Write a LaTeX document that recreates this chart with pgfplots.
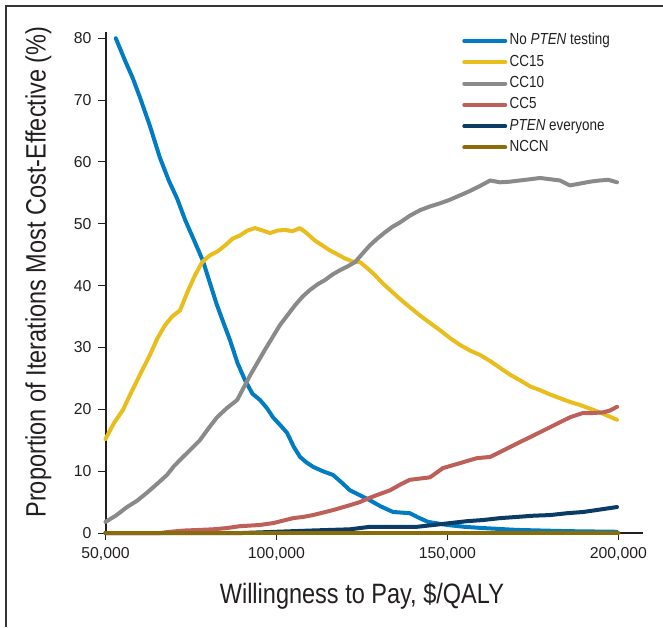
\documentclass[border=0pt]{standalone}
\usepackage{fontspec}
\setmainfont{Liberation Sans}[FakeStretch=0.84]
\newfontfamily\tickfont{Liberation Sans}
\usepackage{pgfplots}
\pgfplotsset{compat=1.18}

\definecolor{cBlue}{RGB}{0,124,194}
\definecolor{cYellow}{RGB}{232,190,30}
\definecolor{cGray}{RGB}{138,138,138}
\definecolor{cRed}{RGB}{190,96,90}
\definecolor{cNavy}{RGB}{10,60,102}
\definecolor{cOlive}{RGB}{138,108,10}
\definecolor{cInk}{RGB}{35,31,32}

% Share of iterations in which each strategy is most cost-effective
\pgfplotstableread{
wtp pct
53000 80.0
55700 76.4
58000 73.5
60100 70.4
63000 65.8
65900 60.7
68500 57.0
71000 54.0
73300 50.6
76000 47.2
78500 44.0
80500 40.5
82500 37.0
84500 34.0
86400 31.2
88600 27.5
90800 24.7
93000 22.5
95200 21.5
97200 20.2
99000 18.7
101000 17.5
103100 16.2
105000 14.0
106900 12.3
108800 11.4
110700 10.7
113500 10.0
116500 9.4
119000 8.2
121500 6.9
124400 6.1
127300 5.3
130500 4.3
134100 3.4
139000 3.2
141500 2.5
144300 1.8
149900 1.3
155000 1.0
160400 0.8
170300 0.5
185000 0.3
199500 0.2
}\tblBlue

\pgfplotstableread{
wtp pct
50000 15.2
52500 17.8
55100 19.9
57150 22.3
60000 25.5
63000 28.8
65200 31.5
67400 33.6
69500 35.0
71800 36.0
74000 39.0
76200 41.7
78300 43.8
80500 44.9
82700 45.5
85000 46.5
87200 47.6
89300 48.1
91500 48.9
93700 49.3
96000 48.9
98100 48.5
100300 48.9
102500 49.0
104700 48.8
106900 49.3
109000 48.4
111200 47.3
113400 46.5
115600 45.7
118000 45.0
120000 44.4
122200 43.9
124400 43.8
126600 42.8
128800 41.7
131000 40.4
133200 39.3
135400 38.2
137500 37.2
139700 36.2
141900 35.2
144800 34.0
147800 32.8
150800 31.5
153700 30.4
156600 29.5
159500 28.8
162500 27.8
165400 26.7
168300 25.6
171200 24.7
174200 23.7
177100 23.1
180000 22.4
182900 21.8
185800 21.2
188800 20.7
191700 20.1
194600 19.5
197100 18.9
199600 18.3
}\tblYellow

\pgfplotstableread{
wtp pct
50000 1.8
53000 2.8
56300 4.2
59200 5.2
62100 6.5
65000 7.9
68000 9.4
70000 10.8
71800 11.8
74700 13.4
77600 15.0
80100 16.9
82600 18.7
85500 20.2
88500 21.5
90400 23.5
92300 25.5
94400 27.5
96600 29.6
98800 31.6
101000 33.6
103200 35.2
105400 36.8
107600 38.2
109800 39.3
112000 40.2
114200 40.9
116400 41.8
118600 42.5
120800 43.1
123000 43.8
125200 45.2
127300 46.5
129500 47.6
131700 48.6
133900 49.5
136100 50.2
139000 51.3
142000 52.2
144900 52.8
147800 53.3
150800 53.9
153700 54.6
156600 55.3
159500 56.1
162500 57.0
165400 56.7
168300 56.8
171200 57.0
174200 57.2
177100 57.4
180000 57.2
182900 57.0
185800 56.2
188800 56.5
191700 56.8
194600 57.0
197100 57.1
199600 56.7
}\tblGray

\pgfplotstableread{
wtp pct
50000 0.0
66000 0.0
68900 0.2
73000 0.4
77600 0.5
81500 0.6
85500 0.8
89300 1.1
95200 1.3
99000 1.6
101900 2.0
104800 2.4
107800 2.6
110700 2.9
113600 3.3
116500 3.7
119000 4.1
121500 4.5
124400 5.0
127300 5.7
130200 6.3
133200 6.9
136100 7.8
139000 8.6
141900 8.8
144900 9.0
148700 10.5
151200 10.9
153700 11.3
156100 11.7
158600 12.1
162500 12.3
165400 13.1
168300 13.9
171200 14.7
174200 15.5
177100 16.3
180000 17.1
182900 17.9
185800 18.7
189600 19.4
192500 19.4
195500 19.5
197500 19.8
199600 20.4
}\tblRed

\pgfplotstableread{
wtp pct
50000 0.0
90000 0.0
95000 0.1
100000 0.2
110000 0.4
121500 0.6
127300 1.0
134000 1.0
141000 1.0
146000 1.3
150700 1.6
155500 1.9
160400 2.1
165300 2.4
170300 2.6
175200 2.8
180000 2.9
185000 3.2
189700 3.4
194700 3.8
199600 4.2
}\tblNavy

\pgfplotstableread{
wtp pct
50000 0.0
200000 0.0
}\tblOlive

\begin{document}
\begin{tikzpicture}
\useasboundingbox (0,0) rectangle (331.5pt,-313.5pt);
\draw[cInk!90, line width=0.75pt] (3pt,-313.5pt) -- (3pt,-3pt) -- (331.5pt,-3pt);
\begin{axis}[
  at={(52.75pt,-266.5pt)}, anchor=south west,
  scale only axis, width=268.75pt, height=250.5pt,
  xmin=50000, xmax=207200, ymin=0, ymax=81,
  axis x line*=bottom, axis y line*=left,
  axis line style={cInk, line width=1pt, -},
  tick align=outside, major tick length=3.5pt,
  tick style={cInk, line width=0.5pt},
  scaled x ticks=false,
  xtick={50000,100000,150000,200000},
  xticklabels={{50,000},{100,000},{150,000},{200,000}},
  ytick={0,10,20,30,40,50,60,70,80},
  yticklabels={0,10,20,30,40,50,60,70,80},
  tick label style={font=\tickfont\fontsize{7.9}{9}\selectfont, text=cInk},
  xlabel={Willingness to Pay, \$/QALY},
  ylabel={Proportion of Iterations Most Cost-Effective (\%)},
  label style={font=\fontsize{14}{16}\selectfont, text=cInk, inner sep=0pt},
  xlabel style={at={(rel axis cs:0.477,-0.0978)}, anchor=north},
  ylabel style={at={(rel axis cs:-0.1498,0.521)}, anchor=north},
  legend style={at={(rel axis cs:0.663,0.999)}, anchor=north west,
    draw=none, fill=none, inner sep=0pt, text=cInk,
    font=\fontsize{8}{9.6}\selectfont, row sep=2.65pt,
    nodes={inner sep=0pt, text height=6pt, text depth=2pt},
    /tikz/every odd column/.append style={column sep=1.2pt}},
  legend cell align=left,
  legend image code/.code={\draw[#1, line width=2pt] (0pt,0pt) -- (20.5pt,0pt);},
  every axis plot/.append style={line width=2pt, line join=round, line cap=round, mark=none},
  clip=false,
]
\addplot[cBlue] table[x=wtp, y=pct] {\tblBlue};
\addlegendentry{No \textit{PTEN} testing}
\addplot[cYellow] table[x=wtp, y=pct] {\tblYellow};
\addlegendentry{CC15}
\addplot[cGray] table[x=wtp, y=pct] {\tblGray};
\addlegendentry{CC10}
\addplot[cRed] table[x=wtp, y=pct] {\tblRed};
\addlegendentry{CC5}
\addplot[cNavy] table[x=wtp, y=pct] {\tblNavy};
\addlegendentry{\textit{PTEN} everyone}
\addplot[cOlive] table[x=wtp, y=pct] {\tblOlive};
\addlegendentry{NCCN}
\end{axis}
\end{tikzpicture}
\end{document}
